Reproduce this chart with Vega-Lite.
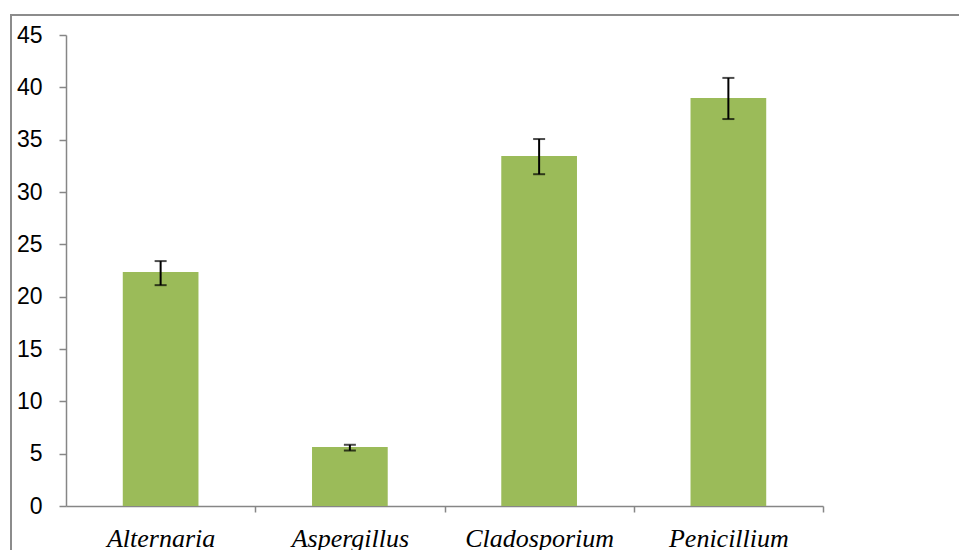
{
  "$schema": "https://vega.github.io/schema/vega-lite/v6.json",
  "autosize": "none",
  "padding": {"left": 11, "top": 15, "right": 0, "bottom": 0},
  "width": 960,
  "height": 545,
  "background": "white",
  "config": {
    "view": {"stroke": "#8c8c8c", "strokeWidth": 2}
  },
  "data": {
    "values": [
      {"genus": "Alternaria", "value": 22.36, "lo": 21.1, "hi": 23.4},
      {"genus": "Aspergillus", "value": 5.64, "lo": 5.3, "hi": 5.85},
      {"genus": "Cladosporium", "value": 33.44, "lo": 31.7, "hi": 35.06},
      {"genus": "Penicillium", "value": 38.98, "lo": 36.97, "hi": 40.9}
    ]
  },
  "layer": [
    {
      "mark": {"type": "bar", "color": "#9BBB59"},
      "encoding": {
        "x": {
          "field": "genus",
          "type": "nominal",
          "sort": null,
          "title": null,
          "scale": {"range": [55, 812], "paddingInner": 0.6, "paddingOuter": 0.3},
          "axis": {
            "orient": "bottom",
            "offset": -54,
            "domainColor": "#868686",
            "domainWidth": 1.5,
            "ticks": true,
            "tickColor": "#868686",
            "tickWidth": 1.5,
            "tickSize": 6,
            "tickOffset": 94.625,
            "labelOffset": -94.625,
            "labelAngle": 0,
            "labelFont": "Liberation Serif",
            "labelFontStyle": "italic",
            "labelFontSize": 26,
            "labelColor": "black",
            "labelPadding": 13,
            "grid": false
          }
        },
        "y": {
          "field": "value",
          "type": "quantitative",
          "title": null,
          "scale": {"domain": [0, 45], "range": [491, 20], "nice": false},
          "axis": {
            "orient": "left",
            "offset": -55,
            "values": [0, 5, 10, 15, 20, 25, 30, 35, 40, 45],
            "domainColor": "#868686",
            "domainWidth": 1.5,
            "tickColor": "#868686",
            "tickWidth": 1.5,
            "tickSize": 7,
            "labelFont": "Liberation Sans",
            "labelFontSize": 23,
            "labelColor": "black",
            "labelPadding": 17,
            "grid": false
          }
        }
      }
    },
    {
      "mark": {"type": "rule", "color": "black", "strokeWidth": 2},
      "encoding": {
        "x": {"field": "genus", "type": "nominal", "sort": null},
        "y": {"field": "lo", "type": "quantitative"},
        "y2": {"field": "hi"}
      }
    },
    {
      "mark": {"type": "tick", "color": "black", "thickness": 2, "size": 12},
      "encoding": {
        "x": {"field": "genus", "type": "nominal", "sort": null},
        "y": {"field": "lo", "type": "quantitative"}
      }
    },
    {
      "mark": {"type": "tick", "color": "black", "thickness": 2, "size": 12},
      "encoding": {
        "x": {"field": "genus", "type": "nominal", "sort": null},
        "y": {"field": "hi", "type": "quantitative"}
      }
    }
  ]
}
